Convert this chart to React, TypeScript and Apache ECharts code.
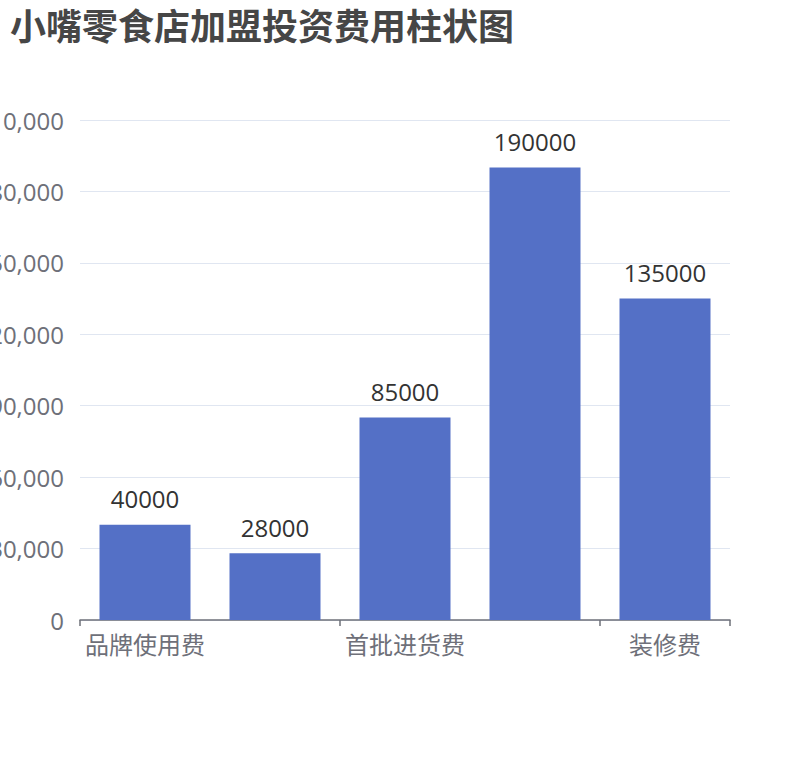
import React, { useEffect, useRef } from 'react'
import * as echarts from 'echarts'

// Chart data
const categories = ['品牌使用费', '加盟保证金', '首批进货费', '店面租金', '装修费']
const costValues = [40000, 28000, 85000, 190000, 135000]
const yTicks = { min: 0, max: 210000, interval: 30000 }

const FONT = '"Open Sans", "Noto Sans CJK SC", sans-serif'

const App: React.FC = () => {
  const chartRef = useRef<HTMLDivElement>(null)

  useEffect(() => {
    document.body.style.margin = '0'
    if (!chartRef.current) return
    const chart = echarts.init(chartRef.current, undefined, { renderer: 'svg' })

    const option: any = {
      animation: false,
      backgroundColor: '#ffffff',
      textStyle: { fontFamily: FONT },
      title: {
        text: '小嘴零食店加盟投资费用柱状图',
        left: 5,
        top: 3,
        textStyle: {
          fontSize: 36,
          fontWeight: 'bold',
          color: '#464646',
          fontFamily: FONT,
        },
      },
      grid: {
        left: 80,
        right: 80,
        top: 120,
        bottom: 140,
        containLabel: false,
        outerBoundsMode: 'none', // let y labels run off the left edge, as in the source
      },
      xAxis: {
        type: 'category',
        data: categories,
        axisLine: { show: true, lineStyle: { color: '#6E7079', width: 1.5 } },
        axisTick: { show: true, length: 6, lineStyle: { color: '#6E7079', width: 1.5 } },
        axisLabel: {
          fontSize: 24,
          color: '#6E7079',
          margin: 12,
        },
      },
      yAxis: {
        type: 'value',
        min: yTicks.min,
        max: yTicks.max,
        interval: yTicks.interval,
        axisLabel: {
          fontSize: 24,
          color: '#6E7079',
          margin: 16,
          formatter: (v: number) => v.toLocaleString('en-US'),
        },
        splitLine: { lineStyle: { color: '#E0E6F1', width: 1.2 } },
      },
      series: [
        {
          type: 'bar',
          data: costValues,
          barWidth: '70%',
          itemStyle: { color: '#5470C6' },
          label: {
            show: true,
            position: 'top',
            distance: 14,
            fontSize: 24,
            color: '#333333',
          },
        },
      ],
    }

    chart.setOption(option)

    return () => {
      chart.dispose()
    }
  }, [])

  return <div ref={chartRef} style={{ width: '810px', height: '760px' }} />
}

export default App
